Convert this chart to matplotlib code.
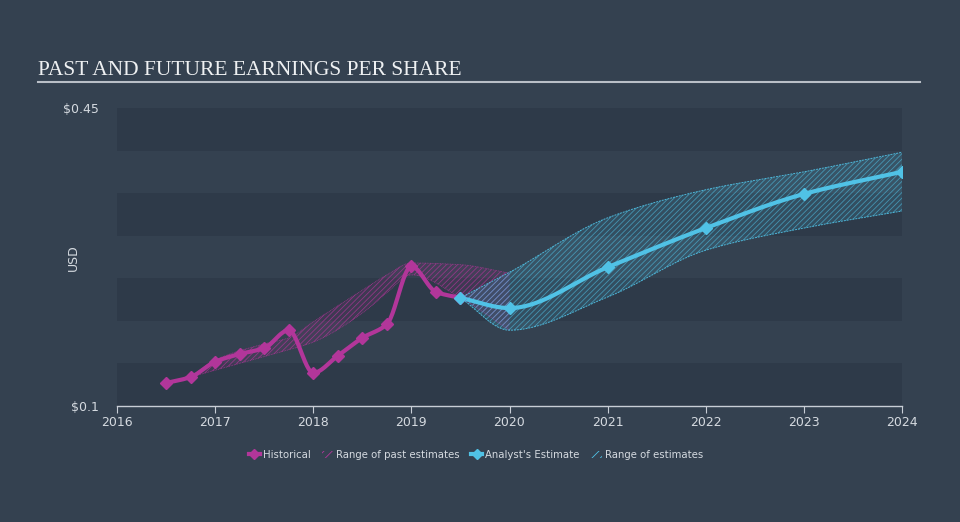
import numpy as np
import matplotlib
matplotlib.use("Agg")
import matplotlib.pyplot as plt
from matplotlib.lines import Line2D
from matplotlib.patches import Patch

# historical EPS (quarterly)
hist_x = [2016.5, 2016.75, 2017.0, 2017.25, 2017.5, 2017.75, 2018.0,
          2018.25, 2018.5, 2018.75, 2019.0, 2019.25, 2019.5]
hist_y = [0.127, 0.134, 0.152, 0.161, 0.168, 0.189, 0.139,
          0.159, 0.180, 0.196, 0.264, 0.234, 0.227]

# range of past estimates
past_x = [2016.75, 2017.0, 2017.5, 2017.75, 2018.0, 2018.5, 2018.75, 2019.0, 2019.5, 2020.0]
past_hi = [0.134, 0.154, 0.173, 0.180, 0.199, 0.236, 0.254, 0.268, 0.266, 0.256]
past_lo = [0.134, 0.142, 0.158, 0.166, 0.175, 0.209, 0.233, 0.254, 0.227, 0.189]

# analyst estimates
est_x = [2019.5, 2020, 2021, 2022, 2023, 2024]
est_y = [0.227, 0.215, 0.263, 0.309, 0.349, 0.375]
est_hi = [0.227, 0.257, 0.321, 0.354, 0.375, 0.398]
est_lo = [0.227, 0.189, 0.228, 0.283, 0.309, 0.329]

years = list(range(2016, 2025))

BG = "#344150"
BAND = "#2e3a49"
MAG = "#b2369a"
CYAN = "#50c2e6"
TXT = "#d5dae0"


def smooth(x, y, n=300):
    # monotone cubic (Fritsch-Carlson) just for drawing
    x = np.asarray(x, float)
    y = np.asarray(y, float)
    h = np.diff(x)
    d = np.diff(y) / h
    m = np.zeros_like(y)
    m[0], m[-1] = d[0], d[-1]
    for i in range(1, len(y) - 1):
        if d[i - 1] * d[i] > 0:
            w1 = 2 * h[i] + h[i - 1]
            w2 = h[i] + 2 * h[i - 1]
            m[i] = (w1 + w2) / (w1 / d[i - 1] + w2 / d[i])
    xs = np.linspace(x[0], x[-1], n)
    k = np.clip(np.searchsorted(x, xs) - 1, 0, len(h) - 1)
    t = (xs - x[k]) / h[k]
    h00 = 2 * t**3 - 3 * t**2 + 1
    h10 = t**3 - 2 * t**2 + t
    h01 = -2 * t**3 + 3 * t**2
    h11 = t**3 - t**2
    ys = h00 * y[k] + h10 * h[k] * m[k] + h01 * y[k + 1] + h11 * h[k] * m[k + 1]
    return xs, ys


plt.rcParams["hatch.linewidth"] = 0.6
fig = plt.figure(figsize=(9.6, 5.22), dpi=100, facecolor=BG)
ax = fig.add_axes([117 / 960, 1 - 406 / 522, 785 / 960, 298 / 522])
ax.set_facecolor(BG)

# horizontal bands
for lo in [0.10, 0.20, 0.30, 0.40]:
    ax.axhspan(lo, lo + 0.05, color=BAND, lw=0, zorder=0)

# past estimate range
px, phi = smooth(past_x, past_hi)
_, plo = smooth(past_x, past_lo)
ax.fill_between(px, plo, phi, facecolor=MAG, alpha=0.12, lw=0, zorder=1)
ax.fill_between(px, plo, phi, facecolor="none", edgecolor=MAG, hatch="//////", lw=0, alpha=0.7, zorder=1)
ax.plot(px, phi, color=MAG, lw=0.6, ls=(0, (1, 1)), alpha=0.8, zorder=1)
ax.plot(px, plo, color=MAG, lw=0.6, ls=(0, (1, 1)), alpha=0.8, zorder=1)

# future estimate range
ex, ehi = smooth(est_x, est_hi)
_, elo = smooth(est_x, est_lo)
ax.fill_between(ex, elo, ehi, facecolor=CYAN, alpha=0.15, lw=0, zorder=2)
ax.fill_between(ex, elo, ehi, facecolor="none", edgecolor=CYAN, hatch="//////", lw=0, alpha=0.6, zorder=2)
ax.plot(ex, ehi, color=CYAN, lw=0.7, ls=(0, (2, 1)), alpha=0.9, zorder=2)
ax.plot(ex, elo, color=CYAN, lw=0.7, ls=(0, (2, 1)), alpha=0.9, zorder=2)

# lines
hx, hy = smooth(hist_x, hist_y)
ax.plot(hx, hy, color=MAG, lw=3, zorder=3, solid_capstyle="round")
ax.plot(hist_x, hist_y, "D", color=MAG, ms=6, zorder=4)
sx, sy = smooth(est_x, est_y)
ax.plot(sx, sy, color=CYAN, lw=3, zorder=3, solid_capstyle="round")
ax.plot(est_x, est_y, "D", color=CYAN, ms=6, zorder=4)

ax.set_xlim(2016, 2024)
ax.set_ylim(0.1, 0.45)
ax.set_xticks(years)
ax.set_xticklabels([str(y) for y in years], color=TXT, fontsize=9)
ax.set_yticks([0.1, 0.45])
ax.set_yticklabels(["$0.1", "$0.45"], color=TXT, fontsize=9)
ax.tick_params(axis="y", length=0, pad=13)
ax.tick_params(axis="x", length=5, color="#c8ced6", pad=2)
for s in ["top", "right", "left"]:
    ax.spines[s].set_visible(False)
ax.spines["bottom"].set_color("#c8ced6")
ax.spines["bottom"].set_linewidth(1)

fig.text(73 / 960, 1 - 258 / 522, "USD", rotation=90, color=TXT, fontsize=9,
         ha="center", va="center")

# title and rule
fig.text(38 / 960, 1 - 75 / 522, "PAST AND FUTURE EARNINGS PER SHARE",
         family="Liberation Serif", fontsize=15.5, color="#eef0f2", va="baseline")
fig.add_artist(Line2D([38 / 960, 920 / 960], [1 - 82 / 522, 1 - 82 / 522],
                      color="#b9bfc7", lw=1.5))

handles = [
    Line2D([], [], color=MAG, marker="D", lw=3, ms=5),
    Patch(facecolor="none", edgecolor=MAG, hatch="////", lw=0),
    Line2D([], [], color=CYAN, marker="D", lw=3, ms=5),
    Patch(facecolor="none", edgecolor=CYAN, hatch="////", lw=0),
]
labels = ["Historical", "Range of past estimates", "Analyst's Estimate", "Range of estimates"]
leg = fig.legend(handles, labels, loc="center", bbox_to_anchor=(476 / 960, 1 - 455 / 522),
                 ncol=4, frameon=False, fontsize=7.3, handlelength=1.1, handletextpad=0.3,
                 columnspacing=1.1)
for t in leg.get_texts():
    t.set_color(TXT)

fig.savefig("out.png", dpi=100, facecolor=BG)
